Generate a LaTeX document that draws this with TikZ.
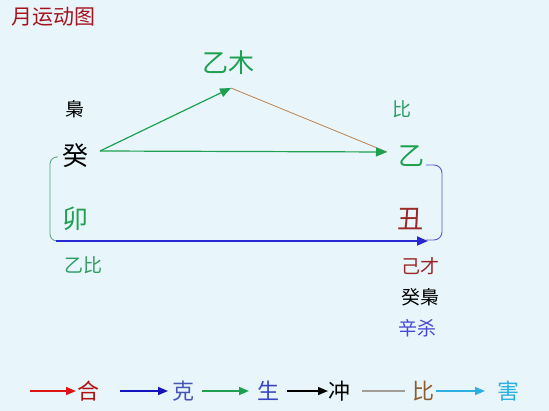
\documentclass[tikz,border=0pt]{standalone}
\usepackage{fontspec}
\setmainfont{Noto Sans CJK SC}
\usetikzlibrary{arrows.meta}
\definecolor{bgc}{RGB}{232,246,251}
\definecolor{gr}{RGB}{30,160,80}
\definecolor{grt}{RGB}{50,155,100}
\definecolor{dred}{RGB}{155,40,40}
\definecolor{ttl}{RGB}{165,20,30}
\definecolor{brn}{RGB}{185,130,80}
\definecolor{bl}{RGB}{40,40,210}
\definecolor{pbl}{RGB}{90,90,200}
\definecolor{lgr}{RGB}{80,160,120}
\definecolor{lred}{RGB}{220,20,20}
\definecolor{lblue}{RGB}{20,20,190}
\definecolor{tblue}{RGB}{70,85,180}
\definecolor{lgray}{RGB}{165,158,150}
\definecolor{lbrown}{RGB}{140,95,50}
\definecolor{cyn}{RGB}{45,175,225}
\tikzset{
  big/.style={inner sep=0pt, font=\fontsize{26}{26}\selectfont},
  small/.style={inner sep=0pt, font=\fontsize{19}{19}\selectfont},
  leg/.style={inner sep=0pt, font=\fontsize{22}{22}\selectfont},
  tip/.style={-{Triangle[length=11pt,width=9pt]}},
  legarrow/.style={line width=1.5pt, -{Triangle[length=10pt,width=8pt]}},
}
\begin{document}
\begin{tikzpicture}[x=1pt,y=-1pt]
\fill[bgc] (0,0) rectangle (549,411);
\useasboundingbox (0,0) rectangle (549,411);
% title
\node[inner sep=0pt, text=ttl, font=\fontsize{21}{21}\selectfont] (title) at (54,17) {月运动图};
% nodes
\node[big, text=gr] (yimu) at (228,63) {乙木};
\node[small, text=black] (xiao) at (75,109) {梟};
\node[big, text=black] (kui) at (75,156) {癸};
\node[big, text=gr] (mao) at (75,219) {卯};
\node[small, text=grt] (yibi) at (83,265) {乙比};
\node[small, text=grt] (bi) at (402,109) {比};
\node[big, text=gr] (yi) at (411,156) {乙};
\node[big, text=dred] (chou) at (410,219) {丑};
\node[small, text=dred] (jicai) at (420,266) {己才};
\node[small, text=black] (kuixiao) at (420,297) {癸梟};
\node[small, text=pbl!80!blue] (xinsha) at (417,328) {辛杀};
% connector points
\coordinate (kuiR) at (100,151);
\coordinate (yimuB) at (231,88);
\coordinate (yiL) at (387,152);
\coordinate (kuiBL) at (58,157);
\coordinate (maoL) at (56,241);
\coordinate (chouR) at (428,241);
\coordinate (yiR) at (426,165);
\coordinate (chouRR) at (426,240);
% connectors
\draw[brn, line width=0.8pt] (yimuB) -- (yiL);
\draw[gr, line width=1.2pt, tip] (kuiR) -- (yimuB);
\draw[gr, line width=1.2pt, tip] (kuiR) -- (yiL);
\draw[lgr, line width=0.8pt, rounded corners=7pt] (kuiBL) -| (50,241) -- (maoL);
\draw[pbl, line width=0.9pt, rounded corners=8pt] (yiR) -| (442,240) -- (chouRR);
\draw[bl, line width=1.8pt, tip] (maoL) -- (chouR);
% legend
\coordinate (a1s) at (30,391); \coordinate (a1e) at (76,391);
\node[leg, text=lred!80!black] (he) at (88,391) {合};
\coordinate (a2s) at (120,391); \coordinate (a2e) at (168,391);
\node[leg, text=tblue] (ke) at (183,391) {克};
\coordinate (a3s) at (202,391); \coordinate (a3e) at (249,391);
\node[leg, text=tblue!80!blue] (sheng) at (268,391) {生};
\coordinate (a4s) at (287,391); \coordinate (a4e) at (328,391);
\node[leg, text=black] (chong) at (339,391) {冲};
\coordinate (a5s) at (362,391); \coordinate (a5e) at (405,391);
\node[leg, text=lbrown] (bil) at (423,391) {比};
\coordinate (a6s) at (436,391); \coordinate (a6e) at (485,391);
\node[leg, text=cyn] (hai) at (508,391) {害};
\draw[lred, legarrow] (a1s) -- (a1e);
\draw[lblue, legarrow] (a2s) -- (a2e);
\draw[gr, legarrow] (a3s) -- (a3e);
\draw[black, legarrow] (a4s) -- (a4e);
\draw[lgray, line width=1.5pt] (a5s) -- (a5e);
\draw[cyn, legarrow] (a6s) -- (a6e);
\end{tikzpicture}
\end{document}
